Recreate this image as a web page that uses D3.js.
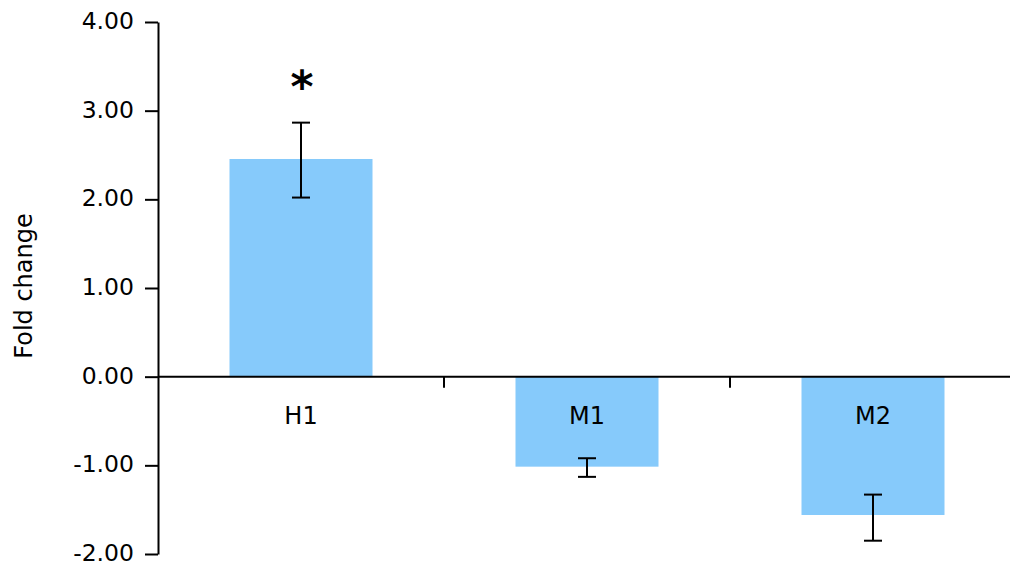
<!DOCTYPE html>
<html><head><meta charset="utf-8">
<script src="https://cdn.jsdelivr.net/npm/d3@7"></script>
<style>body{margin:0;background:#fff}svg{display:block}text{font-family:"DejaVu Sans",sans-serif;fill:#000}</style>
</head><body>
<svg id="c" width="1010" height="564"></svg>
<script>
const categories = ["H1", "M1", "M2"];
const values = [2.455, -1.015, -1.56];
const errUpper = [2.865, -0.92, -1.33];
const errLower = [2.02, -1.13, -1.85];
const significance = ["*", "", ""];
const yTicks = [-2, -1, 0, 1, 2, 3, 4];
const yLabel = "Fold change";

const svg = d3.select("#c");
const y = d3.scaleLinear().domain([-2, 4]).range([554, 22]);
const x = d3.scaleBand().domain(categories).range([158, 1016]).paddingInner(0).paddingOuter(0);
const bw = x.bandwidth() * 0.5;
const cx = d => x(d) + x.bandwidth() / 2;
const fmt = d => d3.format(".2f")(d).replace("\u2212", "-");

// bars
svg.append("g").selectAll("rect").data(categories).join("rect")
  .attr("x", d => cx(d) - bw / 2)
  .attr("width", bw)
  .attr("y", (d, i) => Math.min(y(0), y(values[i])))
  .attr("height", (d, i) => Math.abs(y(values[i]) - y(0)))
  .attr("fill", "#86CAFB");

// y axis
const yAxis = svg.append("g").attr("transform", "translate(158,0)")
  .call(d3.axisLeft(y).tickValues(yTicks).tickFormat(fmt).tickSize(13).tickPadding(11).tickSizeOuter(0));
yAxis.select(".domain").attr("stroke", "#000").attr("stroke-width", 2);
yAxis.selectAll(".tick line").attr("stroke", "#000").attr("stroke-width", 2);
yAxis.selectAll(".tick text").attr("font-size", 23.5).attr("font-family", "DejaVu Sans").attr("fill", "#000").attr("dy", "0.28em");

// x axis line at zero
svg.append("line").attr("x1", 158).attr("x2", 1010).attr("y1", y(0)).attr("y2", y(0))
  .attr("stroke", "#000").attr("stroke-width", 2);
// category boundary ticks
svg.append("g").selectAll("line").data(categories.slice(1)).join("line")
  .attr("x1", d => x(d)).attr("x2", d => x(d))
  .attr("y1", y(0)).attr("y2", y(0) + 11)
  .attr("stroke", "#000").attr("stroke-width", 2);

// category labels
svg.append("g").selectAll("text").data(categories).join("text")
  .attr("x", d => cx(d)).attr("y", y(0) + 47)
  .attr("text-anchor", "middle").attr("font-size", 24).text(d => d);

// error bars
const eg = svg.append("g").attr("stroke", "#000").attr("stroke-width", 2);
categories.forEach((c, i) => {
  const xc = cx(c);
  eg.append("line").attr("x1", xc).attr("x2", xc).attr("y1", y(errUpper[i])).attr("y2", y(errLower[i]));
  eg.append("line").attr("x1", xc - 9).attr("x2", xc + 9).attr("y1", y(errUpper[i])).attr("y2", y(errUpper[i]));
  eg.append("line").attr("x1", xc - 9).attr("x2", xc + 9).attr("y1", y(errLower[i])).attr("y2", y(errLower[i]));
});

// significance
svg.append("g").selectAll("text").data(categories).join("text")
  .attr("x", d => cx(d) + 1).attr("y", (d, i) => y(errUpper[i]) - 21)
  .attr("text-anchor", "middle").attr("font-size", 44).attr("font-weight", "bold")
  .text((d, i) => significance[i]);

// y label
svg.append("text").attr("transform", "translate(32," + 286 + ") rotate(-90)")
  .attr("text-anchor", "middle").attr("font-size", 24).text(yLabel);
</script>
</body></html>
